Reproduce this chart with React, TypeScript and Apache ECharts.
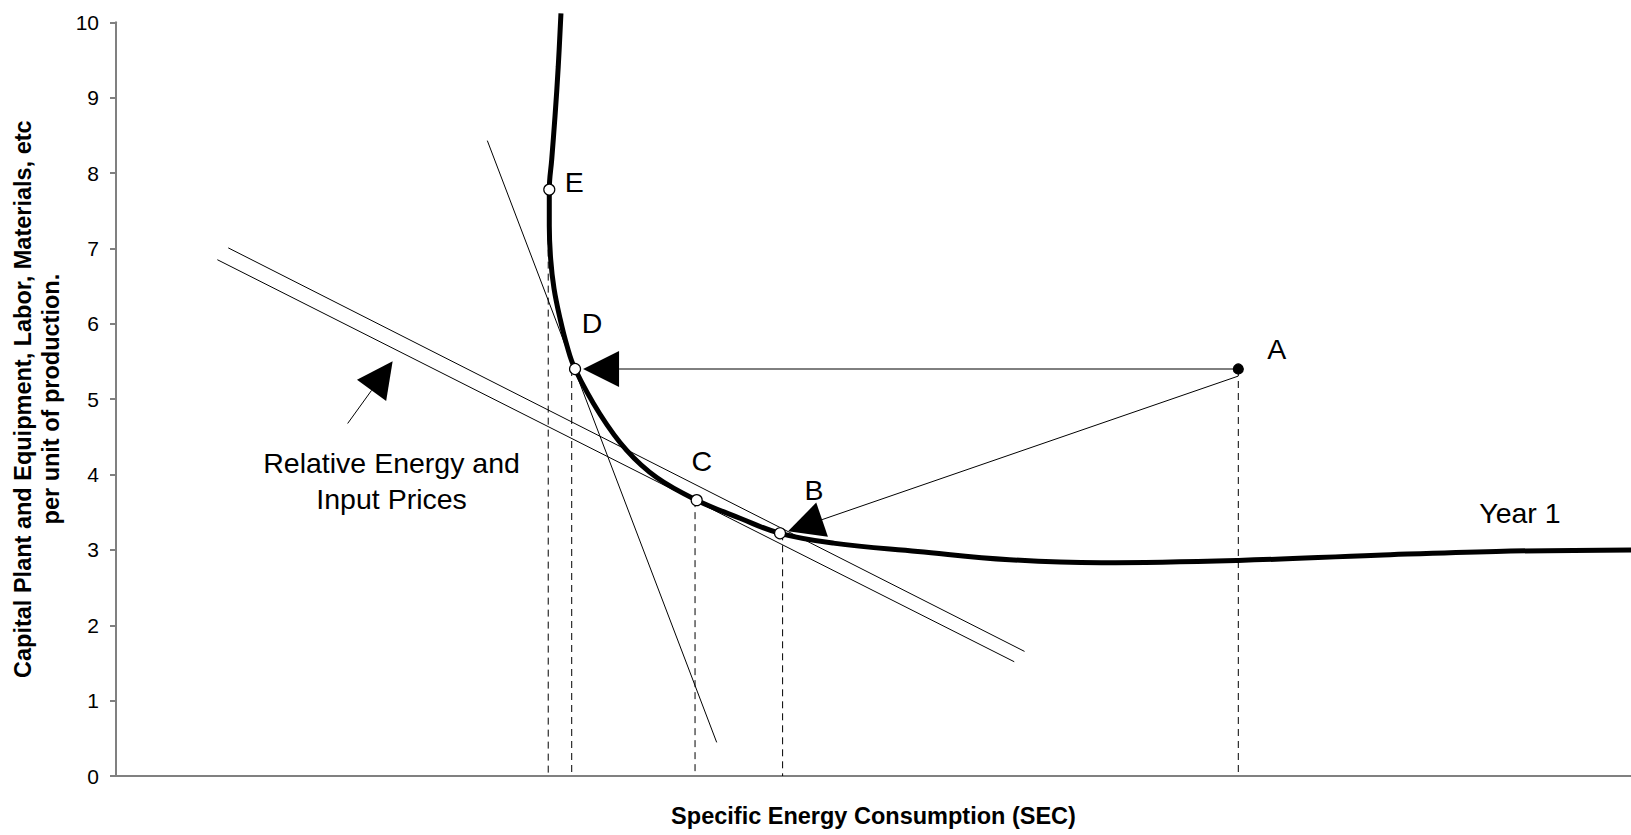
import React, { useEffect, useRef } from "react";
import * as echarts from "echarts";

// Year 1 isoquant curve
const curveX = [29.37, 29.19, 28.98, 28.76, 28.6, 28.6, 28.69, 28.91, 29.31, 29.75, 30.3, 31.95, 33.71, 35.69, 38.33, 41.19, 43.83, 47.35, 52.92, 58.98, 65.04, 74.07, 83.23, 91.1, 100];
const curveY = [10.12, 9.41, 8.76, 8.18, 7.78, 7.3, 6.86, 6.47, 6.07, 5.72, 5.4, 4.8, 4.32, 3.96, 3.66, 3.42, 3.22, 3.09, 2.98, 2.87, 2.83, 2.86, 2.93, 2.98, 3.0];

// Marked points
const pointNames = ["A", "B", "C", "D", "E"];
const pointX = [74.08, 43.83, 38.33, 30.3, 28.6];
const pointY = [5.4, 3.22, 3.66, 5.4, 7.78];

// Dashed drop lines (x, top y)
const dropX = [74.08, 44.0, 38.22, 30.08, 28.53];
const dropTop = [5.4, 3.22, 3.66, 5.4, 7.78];

// Thin straight lines: [x1, y1, x2, y2]
const priceLines = [
  [24.51, 8.43, 39.65, 0.446],
  [7.41, 7.007, 59.97, 1.653],
  [6.69, 6.85, 59.29, 1.516],
];

// Arrows: [fromX, fromY, tipX, tipY]
const arrows = [
  [74.08, 5.4, 30.83, 5.4],
  [74.08, 5.306, 44.36, 3.246],
  [15.29, 4.677, 18.26, 5.504],
];

// Annotation texts and anchor positions
const labelTexts = ["A", "B", "C", "D", "E", "Year 1", "Relative Energy and\nInput Prices"];
const labelX = [76.61, 46.07, 38.66, 31.42, 30.25, 92.67, 18.19];
const labelY = [5.66, 3.8, 4.18, 6.01, 7.88, 3.49, 3.92];

const yTicks = [0, 10, 1]; // min, max, interval

const FONT = "'Liberation Sans', Arial, Helvetica, sans-serif";

export default function App() {
  const ref = useRef<HTMLDivElement>(null);

  useEffect(() => {
    if (!ref.current) return;
    const chart = echarts.init(ref.current, undefined, { renderer: "svg" });

    const curveData = curveX.map((x, i) => [x, curveY[i]]);
    const pointData = pointX.map((x, i) => ({
      name: pointNames[i],
      value: [x, pointY[i]],
      symbolSize: i === 0 ? 10 : 11,
      itemStyle: { color: i === 0 ? "#000" : "#fff", opacity: 1 },
    }));
    const dropData = dropX.map((x, i) => [x, dropTop[i], x, 0]);
    const labelData = labelX.map((x, i) => [x, labelY[i], i]);

    const segRender = (dashed: boolean) => (params: any, api: any) => {
      const p1 = api.coord([api.value(0), api.value(1)]);
      const p2 = api.coord([api.value(2), api.value(3)]);
      return {
        type: "line",
        shape: { x1: p1[0], y1: p1[1], x2: p2[0], y2: p2[1] },
        style: {
          stroke: "#000",
          lineWidth: 1,
          lineDash: dashed ? [7, 5] : null,
        },
      };
    };

    const option: any = {
      animation: false,
      grid: { left: 116, right: 0, top: 22.3, bottom: 54.3, containLabel: false },
      xAxis: {
        type: "value",
        min: 0,
        max: 100,
        axisLine: { show: true, lineStyle: { color: "#808080", width: 2 } },
        axisTick: { show: false },
        axisLabel: { show: false },
        splitLine: { show: false },
        name: "Specific Energy Consumption (SEC)",
        nameLocation: "middle",
        nameGap: 26,
        nameTextStyle: { fontSize: 23.5, fontWeight: "bold", fontFamily: FONT, color: "#000", lineHeight: 28 },
      },
      yAxis: {
        type: "value",
        min: yTicks[0],
        max: yTicks[1],
        interval: yTicks[2],
        axisLine: { show: true, lineStyle: { color: "#808080", width: 2 } },
        axisTick: { show: true, length: 6, lineStyle: { color: "#808080", width: 2 } },
        axisLabel: { fontSize: 21, color: "#000", fontFamily: FONT, margin: 17 },
        splitLine: { show: false },
        name: "Capital Plant and Equipment, Labor, Materials, etc\nper unit of production.",
        nameLocation: "middle",
        nameRotate: 90,
        nameGap: 50,
        nameTextStyle: { fontSize: 23.5, fontWeight: "bold", fontFamily: FONT, color: "#000", lineHeight: 28 },
      },
      series: [
        {
          type: "custom",
          name: "drops",
          coordinateSystem: "cartesian2d",
          renderItem: segRender(true),
          encode: { x: [0, 2], y: [1, 3] },
          data: dropData,
          clip: false,
          z: 1,
        },
        {
          type: "custom",
          name: "prices",
          coordinateSystem: "cartesian2d",
          renderItem: segRender(false),
          encode: { x: [0, 2], y: [1, 3] },
          data: priceLines,
          clip: false,
          z: 1,
        },
        {
          type: "line",
          name: "Year 1",
          data: curveData,
          smooth: 0.4,
          showSymbol: false,
          symbol: "none",
          clip: false,
          lineStyle: { color: "#000", width: 5 },
          z: 2,
        },
        {
          type: "custom",
          name: "arrows",
          coordinateSystem: "cartesian2d",
          encode: { x: [0, 2], y: [1, 3] },
          data: arrows,
          clip: false,
          z: 3,
          renderItem: (params: any, api: any) => {
            const p1 = api.coord([api.value(0), api.value(1)]);
            const p2 = api.coord([api.value(2), api.value(3)]);
            const dx = p2[0] - p1[0];
            const dy = p2[1] - p1[1];
            const len = Math.hypot(dx, dy) || 1;
            const ux = dx / len;
            const uy = dy / len;
            const hl = 36;
            const hw = 18;
            const bx = p2[0] - ux * hl;
            const by = p2[1] - uy * hl;
            const px = -uy;
            const py = ux;
            return {
              type: "group",
              children: [
                {
                  type: "line",
                  shape: { x1: p1[0], y1: p1[1], x2: bx, y2: by },
                  style: { stroke: "#000", lineWidth: 1 },
                },
                {
                  type: "polygon",
                  shape: {
                    points: [
                      [p2[0], p2[1]],
                      [bx + px * hw, by + py * hw],
                      [bx - px * hw, by - py * hw],
                    ],
                  },
                  style: { fill: "#000" },
                },
              ],
            };
          },
        },
        {
          type: "scatter",
          name: "points",
          data: pointData,
          symbol: "circle",
          itemStyle: { borderColor: "#000", borderWidth: 1.2, opacity: 1 },
          emphasis: { disabled: true },
          clip: false,
          z: 4,
        },
        {
          type: "custom",
          name: "labels",
          coordinateSystem: "cartesian2d",
          encode: { x: 0, y: 1 },
          data: labelData,
          clip: false,
          z: 5,
          renderItem: (params: any, api: any) => {
            const p = api.coord([api.value(0), api.value(1)]);
            const idx = api.value(2);
            return {
              type: "text",
              x: p[0],
              y: p[1],
              style: {
                text: labelTexts[idx],
                fill: "#000",
                fontSize: 28.5,
                fontFamily: FONT,
                align: "center",
                verticalAlign: "middle",
                lineHeight: 36,
              },
            };
          },
        },
      ],
    };

    chart.setOption(option);
    return () => chart.dispose();
  }, []);

  return (
    <div
      ref={ref}
      style={{ position: "absolute", left: 0, top: 0, width: 1631, height: 835, background: "#fff" }}
    />
  );
}
